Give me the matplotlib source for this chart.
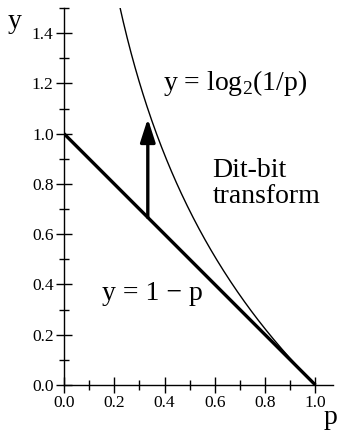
import matplotlib
matplotlib.use('Agg')
import matplotlib.pyplot as plt
from matplotlib.ticker import MultipleLocator
import numpy as np

# line y = 1 - p
line_p = [0.0, 1.0]
line_y = [1.0, 0.0]

# curve y = -ln(p), sampled over the visible part
curve_p = np.linspace(0.22, 1.0, 200)
curve_y = -np.log(curve_p)

# arrow from the line up to the curve at p = 1/3
arrow_p = 1 / 3
arrow_y0 = 1 - arrow_p
arrow_y1 = 1.06

plt.rcParams['font.family'] = ['Liberation Serif', 'DejaVu Serif']
plt.rcParams['mathtext.fontset'] = 'custom'
plt.rcParams['mathtext.rm'] = 'Liberation Serif'

fig = plt.figure(figsize=(3.39, 4.32), dpi=100)
ax = fig.add_axes([64 / 339, 47 / 432, (333 - 64) / 339, (385 - 8) / 432])

ax.plot(line_p, line_y, color='black', lw=2.4, solid_capstyle='butt')
ax.plot(curve_p, curve_y, color='black', lw=1.0)
ax.annotate('', xy=(arrow_p, arrow_y1), xytext=(arrow_p, arrow_y0),
            arrowprops=dict(arrowstyle='-|>,head_length=1.4,head_width=0.45',
                            color='black', lw=2.4, shrinkA=0, shrinkB=0))

ax.set_xlim(0, 1.07)
ax.set_ylim(0, 1.5)
ax.spines['top'].set_visible(False)
ax.spines['right'].set_visible(False)
ax.spines['left'].set_linewidth(1.0)
ax.spines['bottom'].set_linewidth(1.0)

ax.set_xticks([0.0, 0.2, 0.4, 0.6, 0.8, 1.0])
ax.set_yticks([0.0, 0.2, 0.4, 0.6, 0.8, 1.0, 1.2, 1.4])
ax.xaxis.set_minor_locator(MultipleLocator(0.1))
ax.yaxis.set_minor_locator(MultipleLocator(0.1))
ax.set_xticklabels(['0.0', '0.2', '0.4', '0.6', '0.8', '1.0'])
ax.set_yticklabels(['0.0', '0.2', '0.4', '0.6', '0.8', '1.0', '1.2', '1.4'])
ax.tick_params(which='major', direction='inout', length=11, width=1.0,
               labelsize=12.5, pad=2)
ax.tick_params(which='minor', direction='inout', length=7, width=1.0)

fig.text(15 / 339, 1 - 22 / 432, 'y', fontsize=20, ha='center', va='center')
fig.text(331 / 339, 1 - 417 / 432, 'p', fontsize=20, ha='center', va='center')

ax.text(0.394, 1.20, r'y = log$_\mathrm{2}$(1/p)', fontsize=20, ha='left', va='center')
ax.text(0.59, 0.80, 'Dit-bit\ntransform', fontsize=20, ha='left', va='center',
        linespacing=1.05)
ax.text(0.151, 0.366, 'y = 1 \u2212 p', fontsize=20, ha='left', va='center')

fig.savefig('out.png', dpi=100)
